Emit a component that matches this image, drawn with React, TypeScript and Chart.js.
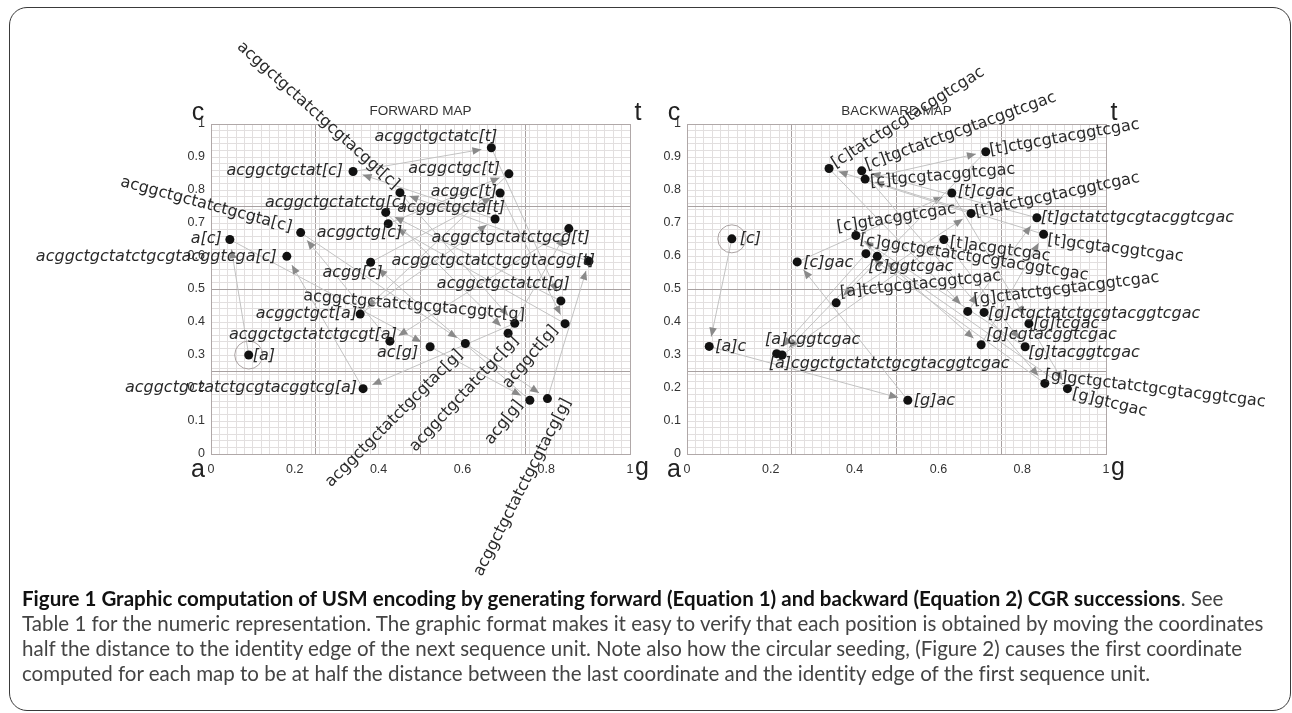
import React, { useEffect, useRef, useMemo } from "react";
import { Chart, registerables } from "chart.js";

Chart.register(...registerables);

// ---------- DATA ----------
const forwardLabels = [
  "[a]", "a[c]", "ac[g]", "acg[g]", "acgg[c]", "acggc[t]", "acggct[g]", "acggctg[c]",
  "acggctgc[t]", "acggctgct[a]", "acggctgcta[t]", "acggctgctat[c]", "acggctgctatc[t]",
  "acggctgctatct[g]", "acggctgctatctg[c]", "acggctgctatctgc[g]", "acggctgctatctgcg[t]",
  "acggctgctatctgcgt[a]", "acggctgctatctgcgta[c]", "acggctgctatctgcgtac[g]",
  "acggctgctatctgcgtacg[g]", "acggctgctatctgcgtacgg[t]", "acggctgctatctgcgtacggt[c]",
  "acggctgctatctgcgtacggtc[g]", "acggctgctatctgcgtacggtcg[a]", "acggctgctatctgcgtacggtcga[c]",
];
const forwardX = [
  0.090, 0.045, 0.523, 0.761, 0.381, 0.690, 0.845, 0.423, 0.711, 0.356, 0.678, 0.339, 0.669,
  0.835, 0.417, 0.709, 0.854, 0.427, 0.214, 0.607, 0.803, 0.902, 0.451, 0.725, 0.363, 0.181,
];
const forwardY = [
  0.300, 0.650, 0.325, 0.163, 0.581, 0.791, 0.395, 0.698, 0.849, 0.424, 0.712, 0.856, 0.928,
  0.464, 0.732, 0.366, 0.683, 0.342, 0.671, 0.335, 0.168, 0.584, 0.792, 0.396, 0.198, 0.599,
];

const backwardLabels = [
  "[c]", "[a]c", "[g]ac", "[c]gac", "[t]cgac", "[g]tcgac", "[g]gtcgac", "[c]ggtcgac",
  "[a]cggtcgac", "[t]acggtcgac", "[g]tacggtcgac", "[c]gtacggtcgac", "[g]cgtacggtcgac",
  "[t]gcgtacggtcgac", "[c]tgcgtacggtcgac", "[t]ctgcgtacggtcgac", "[a]tctgcgtacggtcgac",
  "[t]atctgcgtacggtcgac", "[c]tatctgcgtacggtcgac", "[g]ctatctgcgtacggtcgac",
  "[t]gctatctgcgtacggtcgac", "[c]tgctatctgcgtacggtcgac", "[g]ctgctatctgcgtacggtcgac",
  "[g]gctgctatctgcgtacggtcgac", "[c]ggctgctatctgcgtacggtcgac", "[a]cggctgctatctgcgtacggtcgac",
];
const backwardX = [
  0.107, 0.053, 0.527, 0.263, 0.632, 0.816, 0.908, 0.454, 0.227, 0.613, 0.807, 0.403, 0.702,
  0.851, 0.425, 0.713, 0.356, 0.678, 0.339, 0.670, 0.835, 0.417, 0.709, 0.854, 0.427, 0.214,
];
const backwardY = [
  0.652, 0.326, 0.163, 0.582, 0.791, 0.395, 0.198, 0.599, 0.300, 0.650, 0.325, 0.662, 0.331,
  0.666, 0.833, 0.916, 0.458, 0.729, 0.865, 0.432, 0.716, 0.858, 0.429, 0.214, 0.607, 0.304,
];

const xTickValues = [0, 0.2, 0.4, 0.6, 0.8, 1];
const yTickValues = [0, 0.1, 0.2, 0.3, 0.4, 0.5, 0.6, 0.7, 0.8, 0.9, 1];
const quadrantLines = [0.25, 0.5, 0.75];
const minorStep = 0.02;
const corners = { topLeft: "c", topRight: "t", bottomLeft: "a", bottomRight: "g" };
const titles = ["FORWARD MAP", "BACKWARD MAP"];

const captionBold = "Figure 1 Graphic computation of USM encoding by generating forward (Equation 1) and backward (Equation 2) CGR successions";
const captionLines = [
  ". See",
  "Table 1 for the numeric representation. The graphic format makes it easy to verify that each position is obtained by moving the coordinates",
  "half the distance to the identity edge of the next sequence unit. Note also how the circular seeding, (Figure 2) causes the first coordinate",
  "computed for each map to be at half the distance between the last coordinate and the identity edge of the first sequence unit.",
];

// ---------- LABEL PLACEMENT (style: pixel offsets, rotation, alignment) ----------
type Place = [number, number, number, "l" | "r"];
const forwardPlace: Place[] = [
  [4, 1, 0, "l"], [-8, -1, 0, "r"], [-12, 6, 0, "r"], [-10, 2, -52, "r"], [12, 11, 0, "r"],
  [-3, -1, 0, "r"], [-10, 4, -50, "r"], [14, 9, 0, "r"], [-9, -5, 0, "r"], [-3, 0, 0, "r"],
  [10, -11, 0, "r"], [-10, -1, 0, "r"], [6, -11, 0, "r"], [9, -17, 0, "r"], [21, -10, 0, "r"],
  [8, 5, -47, "r"], [21, 9, 0, "r"], [7, -6, 0, "r"], [-9, -5, 15, "r"], [-5, 9, -45, "r"],
  [20, 1, -63, "r"], [6, 0, 0, "r"], [-3, -6, 42, "r"], [10, -8, 5, "r"], [-6, -1, 0, "r"],
  [-10, 1, 0, "r"],
];
const backwardPlace: Place[] = [
  [8, 0, 0, "l"], [6, 0, 0, "l"], [6, 1, 0, "l"], [6, 1, 0, "l"], [6, -1, 0, "l"],
  [4, 0, 0, "l"], [5, 5, 14, "l"], [-9, 11, 0, "l"], [-17, -15, 0, "l"], [6, 3, 8, "l"],
  [3, 6, 0, "l"], [-19, -8, -9, "l"], [5, -10, 0, "l"], [4, 6, 7, "l"], [5, 3, -5, "l"],
  [4, -1, -10, "l"], [4, -10, -6, "l"], [4, -1, -12, "l"], [4, -4, -32, "l"], [6, -11, -7, "l"],
  [4, 0, 0, "l"], [4, -5, -20, "l"], [4, 1, 0, "l"], [0, -8, 7, "l"], [-6, -14, 9, "l"],
  [-8, 10, 0, "l"],
];

const near = (a: number, b: number) => Math.abs(a - b) < 1e-6;

function gridTicks(scale: any) {
  const vals: number[] = [];
  const n = Math.round(1 / minorStep);
  for (let i = 0; i <= n; i++) vals.push(Math.round(i * minorStep * 1000) / 1000);
  quadrantLines.forEach((q) => { if (!vals.some((v) => near(v, q))) vals.push(q); });
  vals.sort((a, b) => a - b);
  scale.ticks = vals.map((v) => ({ value: v }));
}

const EDGE = "#b0a8a8";
const MAJOR = "#a8a1a1";
const MINOR = "#e2dfdf";

function gridColor(ctx: any) {
  const v = ctx.tick ? ctx.tick.value : -1;
  if (near(v, 0) || near(v, 1)) return EDGE;
  if (quadrantLines.some((q) => near(q, v))) return MAJOR;
  return MINOR;
}

function drawArrow(ctx: CanvasRenderingContext2D, x0: number, y0: number, x1: number, y1: number) {
  const dx = x1 - x0, dy = y1 - y0;
  const len = Math.hypot(dx, dy);
  if (len < 1) return;
  const ux = dx / len, uy = dy / len;
  const gap = 10;
  const tx = x1 - ux * gap, ty = y1 - uy * gap;
  ctx.strokeStyle = "#c2c2c2";
  ctx.lineWidth = 1;
  ctx.beginPath();
  ctx.moveTo(x0, y0);
  ctx.lineTo(tx, ty);
  ctx.stroke();
  const hl = 9, hw = 3.8;
  const bx = tx - ux * hl, by = ty - uy * hl;
  ctx.fillStyle = "#8a8a8a";
  ctx.beginPath();
  ctx.moveTo(tx, ty);
  ctx.lineTo(bx - uy * hw, by + ux * hw);
  ctx.lineTo(bx + uy * hw, by - ux * hw);
  ctx.closePath();
  ctx.fill();
}

interface CgrProps {
  xs: number[];
  ys: number[];
  labels: string[];
  place: Place[];
  title: string;
  left: number;
  width: number;
  areaLeft: number;
  areaRight: number;
}

const AREA_TOP = 124;
const AREA_BOTTOM = 454;
const CANVAS_H = 600;
const Y_AXIS_W = 40;
const X_AXIS_H = 30;
const LABEL_SIZE = 16;

function CgrChart(props: CgrProps) {
  const ref = useRef<HTMLCanvasElement | null>(null);
  useEffect(() => {
    const { xs, ys, labels, place, title, width, areaLeft, areaRight } = props;
    const overlay = {
      id: "cgrOverlay",
      beforeDatasetsDraw(chart: any) {
        const ctx: CanvasRenderingContext2D = chart.ctx;
        const pts = chart.getDatasetMeta(0).data;
        ctx.save();
        for (let i = 0; i + 1 < pts.length; i++) {
          drawArrow(ctx, pts[i].x, pts[i].y, pts[i + 1].x, pts[i + 1].y);
        }
        ctx.strokeStyle = "#aaa2a2";
        ctx.lineWidth = 1;
        ctx.beginPath();
        ctx.arc(pts[0].x, pts[0].y, 14, 0, Math.PI * 2);
        ctx.stroke();
        ctx.restore();
      },
      afterDatasetsDraw(chart: any) {
        const ctx: CanvasRenderingContext2D = chart.ctx;
        const pts = chart.getDatasetMeta(0).data;
        const area = chart.chartArea;
        ctx.save();
        ctx.fillStyle = "#2a2a2a";
        for (let i = 0; i < pts.length; i++) {
          const [dx, dy, ang, al] = place[i];
          ctx.save();
          ctx.translate(pts[i].x + dx, pts[i].y + dy);
          ctx.rotate((ang * Math.PI) / 180);
          ctx.font = (ang === 0 ? "italic " : "") + LABEL_SIZE + 'px "DejaVu Sans"';
          ctx.textAlign = al === "l" ? "left" : "right";
          ctx.textBaseline = "middle";
          ctx.fillText(labels[i], 0, 0);
          ctx.restore();
        }
        ctx.fillStyle = "#222";
        ctx.font = '25px "Liberation Sans"';
        ctx.textAlign = "center";
        ctx.textBaseline = "alphabetic";
        ctx.fillText(corners.topLeft, area.left - 13, area.top - 4);
        ctx.fillText(corners.topRight, area.right + 8, area.top - 4);
        ctx.fillText(corners.bottomLeft, area.left - 13, area.bottom + 23);
        ctx.fillText(corners.bottomRight, area.right + 12, area.bottom + 21);
        ctx.fillStyle = "#333";
        ctx.font = '13.5px "Liberation Sans"';
        ctx.textBaseline = "middle";
        ctx.fillText(title, (area.left + area.right) / 2, area.top - 13);
        ctx.restore();
      },
    };

    const tickFont = { family: "Liberation Sans", size: 12.5 };
    const chart = new Chart(ref.current as HTMLCanvasElement, {
      type: "scatter",
      data: {
        datasets: [
          {
            data: xs.map((x, i) => ({ x, y: ys[i] })),
            pointRadius: 4.5,
            pointBackgroundColor: "#111",
            pointBorderWidth: 0,
            showLine: false,
          },
        ],
      },
      options: {
        responsive: false,
        animation: false,
        events: [],
        layout: {
          padding: {
            left: areaLeft - Y_AXIS_W,
            top: AREA_TOP,
            right: width - areaRight,
            bottom: CANVAS_H - AREA_BOTTOM - X_AXIS_H,
          },
        },
        plugins: { legend: { display: false }, tooltip: { enabled: false }, title: { display: false } },
        scales: {
          x: {
            type: "linear",
            min: 0,
            max: 1,
            afterBuildTicks: gridTicks,
            afterFit: (s: any) => { s.height = X_AXIS_H; },
            grid: { color: gridColor, lineWidth: 1, drawTicks: false },
            border: { display: true, color: EDGE, width: 1 },
            ticks: {
              autoSkip: false,
              maxRotation: 0,
              minRotation: 0,
              padding: 8,
              color: "#333",
              font: tickFont,
              callback: (v: any) => {
                const t = xTickValues.find((q) => near(q, Number(v)));
                return t === undefined ? "" : String(t);
              },
            },
          },
          y: {
            type: "linear",
            min: 0,
            max: 1,
            afterBuildTicks: gridTicks,
            afterFit: (s: any) => { s.width = Y_AXIS_W; },
            grid: { color: gridColor, lineWidth: 1, drawTicks: false },
            border: { display: true, color: EDGE, width: 1 },
            ticks: {
              autoSkip: false,
              padding: 6,
              color: "#333",
              font: tickFont,
              callback: (v: any) => {
                const t = yTickValues.find((q) => near(q, Number(v)));
                return t === undefined ? "" : String(t);
              },
            },
          },
        },
      } as any,
      plugins: [overlay],
    });
    return () => chart.destroy();
  }, []);
  return (
    <canvas
      ref={ref}
      width={props.width}
      height={CANVAS_H}
      style={{ position: "absolute", left: props.left, top: 0, width: props.width, height: CANVAS_H }}
    />
  );
}

const CAPTION_FONT = "Lato";
const CAPTION_LEFT = 22;
const CAPTION_LINE2_WIDTH = 1246;

function fitCaptionSize(): number {
  try {
    const c = document.createElement("canvas");
    const ctx = c.getContext("2d");
    if (!ctx) return 20;
    ctx.font = '100px "' + CAPTION_FONT + '"';
    const w = ctx.measureText(captionLines[1]).width;
    if (!w) return 20;
    return Math.min(22, Math.max(15, (CAPTION_LINE2_WIDTH / w) * 100));
  } catch (e) {
    return 20;
  }
}

export default function App() {
  const capSize = useMemo(() => fitCaptionSize(), []);
  return (
    <div style={{ position: "absolute", left: 0, top: 0, width: 1292, height: 713, overflow: "hidden", background: "#fff" }}>
      <div
        style={{
          position: "absolute", left: 9, top: 7, width: 1282, height: 704,
          border: "1.5px solid #3a3a3a", borderRadius: 18, boxSizing: "border-box",
        }}
      />
      <CgrChart xs={forwardX} ys={forwardY} labels={forwardLabels} place={forwardPlace}
        title={titles[0]} left={0} width={660} areaLeft={211} areaRight={630} />
      <CgrChart xs={backwardX} ys={backwardY} labels={backwardLabels} place={backwardPlace}
        title={titles[1]} left={646} width={646} areaLeft={41} areaRight={460} />
      <div
        style={{
          position: "absolute", left: CAPTION_LEFT, top: 586, fontFamily: CAPTION_FONT, fontSize: capSize,
          lineHeight: "25px", color: "#444", whiteSpace: "nowrap", fontVariantLigatures: "none",
        }}
      >
        <div><b style={{ color: "#111" }}>{captionBold}</b>{captionLines[0]}</div>
        <div>{captionLines[1]}</div>
        <div>{captionLines[2]}</div>
        <div>{captionLines[3]}</div>
      </div>
    </div>
  );
}
